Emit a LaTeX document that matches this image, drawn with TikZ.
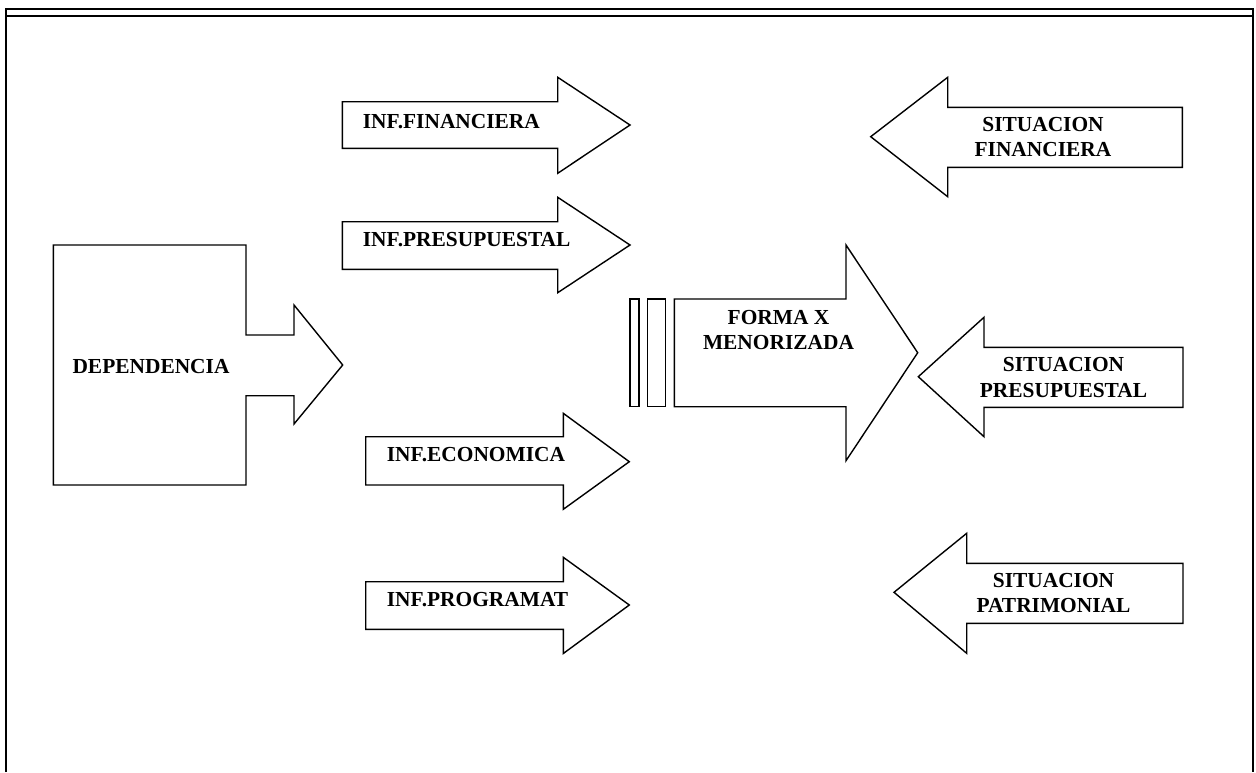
\documentclass[tikz,border=0pt]{standalone}
\usepackage{fontspec}
\setmainfont{Liberation Serif}
\begin{document}
\begin{tikzpicture}[x=1pt,y=-1pt,
  shapeline/.style={draw=black,line width=1.4pt,line join=miter,fill=white},
  frameline/.style={draw=black,line width=2.2pt},
  lbl/.style={inner sep=0pt,font=\bfseries\fontsize{21.4}{25.2}\selectfont,align=center}]
\useasboundingbox (0,0) rectangle (1256,772);
% frame
\coordinate (tl) at (5.7,9);
\coordinate (tr) at (1252.8,9);
\coordinate (bl) at (5.7,772);
\coordinate (br) at (1252.8,772);
\draw[frameline] (bl) -- (tl) -- (tr) -- (br);
\coordinate (itl) at (5.7,15.7);
\coordinate (itr) at (1252.8,15.7);
\draw[frameline] (itl) -- (itr);
% DEPENDENCIA
\draw[shapeline] (53.3,245) -- (246,245) -- (246,335) -- (294,335) -- (294,305) -- (342.7,365)
  -- (294,424) -- (294,395.7) -- (246,395.7) -- (246,485) -- (53.3,485) -- cycle;
\node[lbl] (dep) at (151,366.5) {DEPENDENCIA};
% INF.FINANCIERA
\draw[shapeline] (342.3,101.7) -- (557.7,101.7) -- (557.7,77.3) -- (630,125) -- (557.7,173.3)
  -- (557.7,148.3) -- (342.3,148.3) -- cycle;
\node[lbl,anchor=west] (ifin) at (362.7,121.7) {INF.FINANCIERA};
% INF.PRESUPUESTAL
\draw[shapeline] (342.3,221.7) -- (557.7,221.7) -- (557.7,197.3) -- (630,245) -- (557.7,292.7)
  -- (557.7,269.3) -- (342.3,269.3) -- cycle;
\node[lbl,anchor=west] (ipre) at (362.7,240) {INF.PRESUPUESTAL};
% INF.ECONOMICA
\draw[shapeline] (365.7,436.7) -- (563.3,436.7) -- (563.3,413.3) -- (629.3,461.7) -- (563.3,509.3)
  -- (563.3,485) -- (365.7,485) -- cycle;
\node[lbl,anchor=west] (ieco) at (386.7,455) {INF.ECONOMICA};
% INF.PROGRAMAT
\draw[shapeline] (365.7,581.7) -- (563.3,581.7) -- (563.3,557.3) -- (629.3,605) -- (563.3,653.5)
  -- (563.3,629.3) -- (365.7,629.3) -- cycle;
\node[lbl,anchor=west] (iprog) at (386.7,600) {INF.PROGRAMAT};
% FORMA X MENORIZADA
\draw[shapeline] (630,299) rectangle (639,406.7);
\draw[shapeline] (647.7,299) rectangle (665.7,406.7);
\draw[shapeline] (674.3,299) -- (846,299) -- (846,245) -- (917.7,352.7) -- (846,460.7)
  -- (846,406.7) -- (674.3,406.7) -- cycle;
\node[lbl] (forma) at (778.5,330) {FORMA X\\MENORIZADA};
% SITUACION FINANCIERA
\draw[shapeline] (1182.3,107.3) -- (947.7,107.3) -- (947.7,77.3) -- (870.7,136.7) -- (947.7,196.7)
  -- (947.7,167.3) -- (1182.3,167.3) -- cycle;
\node[lbl] (sfin) at (1043,137.2) {SITUACION\\FINANCIERA};
% SITUACION PRESUPUESTAL
\draw[shapeline] (1183,347.3) -- (984,347.3) -- (984,317.3) -- (918.3,376.7) -- (984,436.7)
  -- (984,407.3) -- (1183,407.3) -- cycle;
\node[lbl] (spre) at (1063.5,377.5) {SITUACION\\PRESUPUESTAL};
% SITUACION PATRIMONIAL
\draw[shapeline] (1183,563.3) -- (966.7,563.3) -- (966.7,533.3) -- (894,592.3) -- (966.7,653.3)
  -- (966.7,623.3) -- (1183,623.3) -- cycle;
\node[lbl] (spat) at (1053.5,593.3) {SITUACION\\PATRIMONIAL};
\end{tikzpicture}
\end{document}
